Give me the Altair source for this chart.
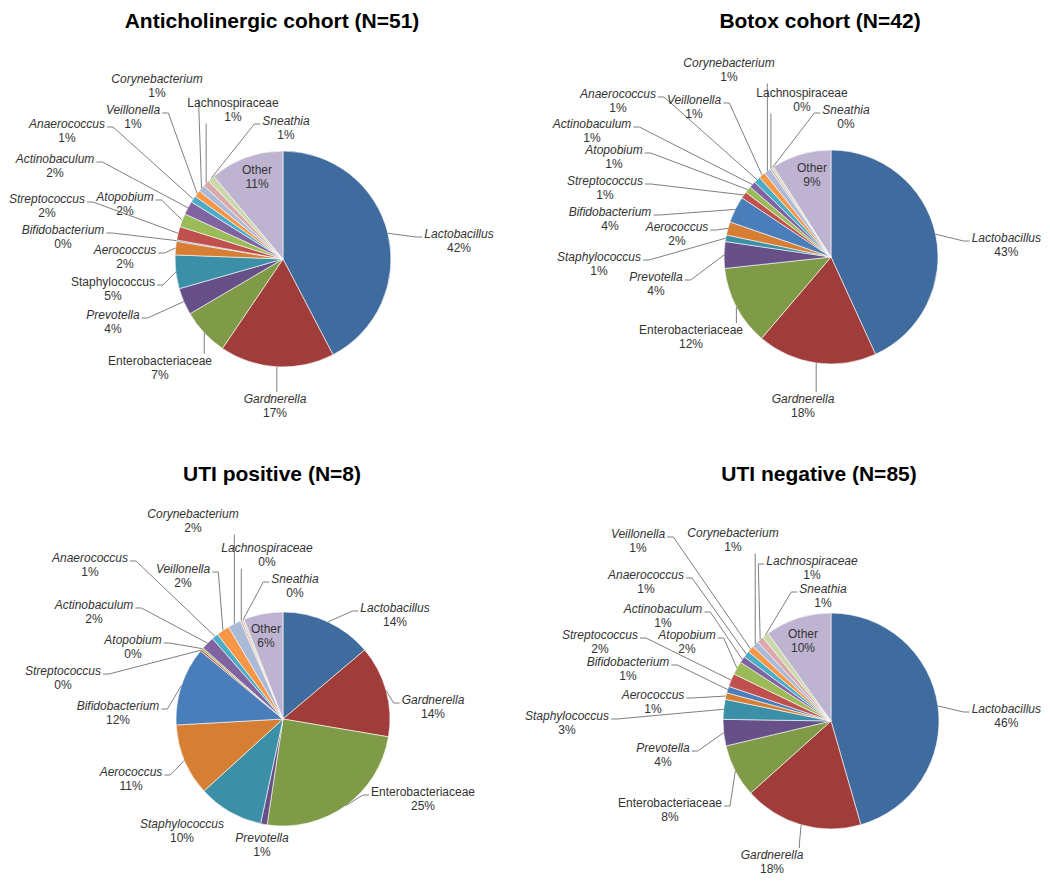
import math
import altair as alt
import pandas as pd

# ---------------- data ----------------
taxa = ["Lactobacillus", "Gardnerella", "Enterobacteriaceae", "Prevotella",
        "Staphylococcus", "Aerococcus", "Bifidobacterium", "Streptococcus",
        "Atopobium", "Actinobaculum", "Anaerococcus", "Veillonella",
        "Corynebacterium", "Lachnospiraceae", "Sneathia", "Other"]

titles = ["Anticholinergic cohort (N=51)", "Botox cohort (N=42)",
          "UTI positive (N=8)", "UTI negative (N=85)"]

anticholinergic = [42, 17, 7, 4, 5, 2, 0.2, 2, 2, 2, 1, 1, 1, 1, 1, 11]
botox = [43, 18, 12, 4, 1, 2, 4, 1, 1, 1, 1, 1, 1, 0.3, 0.3, 9]
uti_positive = [14, 14, 25, 1, 10, 11, 12, 0.3, 0.3, 2, 1, 2, 2, 0.3, 0.3, 6]
uti_negative = [46, 18, 8, 4, 3, 1, 1, 2, 2, 1, 1, 1, 1, 1, 1, 10]

cohorts = [anticholinergic, botox, uti_positive, uti_negative]

# ---------------- styles / layout ----------------
colors = ["#3F6B9E", "#A03D3A", "#7F9B48", "#665087", "#3B90A7", "#D67E34",
          "#4A7EBB", "#C0504D", "#9BBB59", "#8064A2", "#4BACC6", "#F79646",
          "#AABAD7", "#D9AAA9", "#CBD9AA", "#BFB3D2"]

upright = [
    {"Enterobacteriaceae", "Other", "Lachnospiraceae", "Staphylococcus"},
    {"Enterobacteriaceae", "Other", "Lachnospiraceae"},
    {"Enterobacteriaceae", "Other"},
    {"Enterobacteriaceae", "Other"},
]

FONT = "Liberation Sans, Arial, sans-serif"
FS = 12
LINE_GAP = 13.5
TITLE_FS = 21

# panel placement on the page (page coordinates)
col_w = [548, 486]
row_h = [461, 405]
origins = [(8, 8), (8 + col_w[0], 8), (8, 8 + row_h[0]), (8 + col_w[0], 8 + row_h[0])]
pies = [(283, 259, 108), (831, 257, 107), (283, 719, 107), (831, 721, 108)]
title_pos = [(272, 28), (820, 28), (272, 481), (819, 481)]

label_pos = [
    [(459, 234), (275, 399), (160, 361), (113, 315), (113, 282), (125, 250), (63, 230),
     (42, 199), (125, 197), (55, 159), (67, 124), (133, 110), (157, 79), (233, 103),
     (286, 121), (257, 170)],
    [(1007, 238), (803, 399), (691, 330), (656, 277), (599, 257), (677, 227), (610, 212),
     (605, 181), (614, 150), (592, 124), (618, 94), (694, 100), (729, 63), (802, 93),
     (846, 110), (812, 168)],
    [(395, 608), (433, 700), (423, 792), (262, 838), (182, 824), (131, 772), (118, 706),
     (63, 671), (133, 640), (94, 605), (90, 558), (183, 569), (193, 514), (267, 548),
     (295, 579), (266, 629)],
    [(1008, 709), (772, 855), (670, 803), (663, 748), (567, 716), (653, 695), (628, 662),
     (600, 635), (687, 635), (663, 609), (646, 575), (638, 534), (733, 533), (812, 561),
     (823, 589), (803, 634)],
]

# approximate Arial advance widths (per 1000 em)
CW = {}
for ch in "abdeghnopqu":
    CW[ch] = 556
for ch in "cksvxyz":
    CW[ch] = 500
for ch in "ijl":
    CW[ch] = 222
CW.update({"f": 278, "t": 278, "r": 333, "m": 833, "w": 722, "%": 889, " ": 278,
           "A": 667, "B": 667, "C": 722, "E": 667, "G": 778, "L": 556, "O": 778,
           "P": 667, "S": 667, "V": 667})
for ch in "0123456789":
    CW[ch] = 556


def text_w(s, size=FS):
    return sum(CW.get(c, 556) for c in s) * size / 1000.0


def build_panel(k):
    vals = cohorts[k]
    ox, oy = origins[k]
    W, H = col_w[k % 2], row_h[k // 2]
    cx, cy, R = pies[k]
    total = sum(vals)

    xs = alt.Scale(domain=[0, W], nice=False, zero=False)
    ys = alt.Scale(domain=[H, 0], nice=False, zero=False)

    slices = pd.DataFrame({
        "taxon": taxa, "value": vals, "idx": list(range(len(taxa))),
        "cx": [cx - ox] * len(taxa), "cy": [cy - oy] * len(taxa),
    })

    names, pcts, lead = [], [], []
    cum = 0.0
    for i, (t, v) in enumerate(zip(taxa, vals)):
        a = (cum + v / 2.0) / total * 2 * math.pi
        cum += v
        sx, sy = cx + R * math.sin(a), cy - R * math.cos(a)
        lx, ly = label_pos[k][i]
        pct = f"{int(round(v))}%"
        wn, wp = text_w(t), text_w(pct)
        hw = max(wn, wp) / 2.0
        # keep labels inside the page
        lx = max(lx, 9 + hw)
        lx = min(lx, 1041 - hw)
        names.append({"name": t, "x": lx - ox, "y": ly - oy,
                      "italic": 0 if t in upright[k] else 1})
        pcts.append({"pct": pct, "x": lx - ox, "y": ly + LINE_GAP - oy})
        if t == "Other":
            continue
        x0, x1 = lx - hw, lx + hw
        y0, y1 = ly - 7, ly + LINE_GAP + 7
        ddx = max(x0 - sx, 0, sx - x1)
        ddy = max(y0 - sy, 0, sy - y1)
        if math.hypot(ddx, ddy) < 10:
            continue
        if sx > x1 + 2:
            ax, ay = lx + wn / 2 + 2, ly + 3
            ex, ey = ax + 6, ay
        elif sx < x0 - 2:
            ax, ay = lx - wn / 2 - 2, ly + 3
            ex, ey = ax - 6, ay
        elif sy < y0:
            ax, ay = min(max(sx, x0 + 4), x1 - 4), y0
            ex, ey = ax, ay - 4
        else:
            ax, ay = min(max(sx, x0 + 4), x1 - 4), y1
            ex, ey = ax, ay + 4
        for j, (px, py) in enumerate([(ax, ay), (ex, ey), (sx, sy)]):
            lead.append({"taxon": t, "pt": j, "x": px - ox, "y": py - oy})

    names_df = pd.DataFrame(names)
    pct_df = pd.DataFrame(pcts)
    lead_df = pd.DataFrame(lead)
    tx, ty = title_pos[k]
    title_df = pd.DataFrame({"title": [titles[k]], "x": [tx - ox], "y": [ty - oy]})

    X = lambda f: alt.X(f, type="quantitative", scale=xs, axis=None)
    Y = lambda f: alt.Y(f, type="quantitative", scale=ys, axis=None)

    arcs = alt.Chart(slices).mark_arc(stroke="#ffffff", strokeWidth=0.6).encode(
        theta=alt.Theta("value:Q", stack=True),
        color=alt.Color("taxon:N", scale=alt.Scale(domain=taxa, range=colors), legend=None),
        order=alt.Order("idx:Q", sort="ascending"),
        x=X("cx"), y=Y("cy"),
        radius=alt.value(R),
    )
    leaders = alt.Chart(lead_df).mark_line(color="#7f7f7f", strokeWidth=1).encode(
        x=X("x"), y=Y("y"), detail="taxon:N", order="pt:Q")
    it = alt.Chart(names_df[names_df["italic"] == 1]).mark_text(
        font=FONT, fontSize=FS, fontStyle="italic", color="#333333", baseline="middle").encode(
        x=X("x"), y=Y("y"), text="name:N")
    up = alt.Chart(names_df[names_df["italic"] == 0]).mark_text(
        font=FONT, fontSize=FS, color="#333333", baseline="middle").encode(
        x=X("x"), y=Y("y"), text="name:N")
    pc = alt.Chart(pct_df).mark_text(
        font=FONT, fontSize=FS, color="#333333", baseline="middle").encode(
        x=X("x"), y=Y("y"), text="pct:N")
    ttl = alt.Chart(title_df).mark_text(
        font=FONT, fontSize=TITLE_FS, fontWeight="bold", color="#000000", baseline="alphabetic").encode(
        x=X("x"), y=Y("y"), text="title:N")

    return alt.layer(arcs, leaders, it, up, pc, ttl).properties(width=W, height=H)


panels = [build_panel(k) for k in range(4)]
chart = alt.concat(*panels, columns=2, spacing=0, bounds="flush").properties(
    padding=0, background="#ffffff"
).configure_view(stroke=None)

chart.save("out.html", embed_options={"renderer": "svg", "actions": False})
